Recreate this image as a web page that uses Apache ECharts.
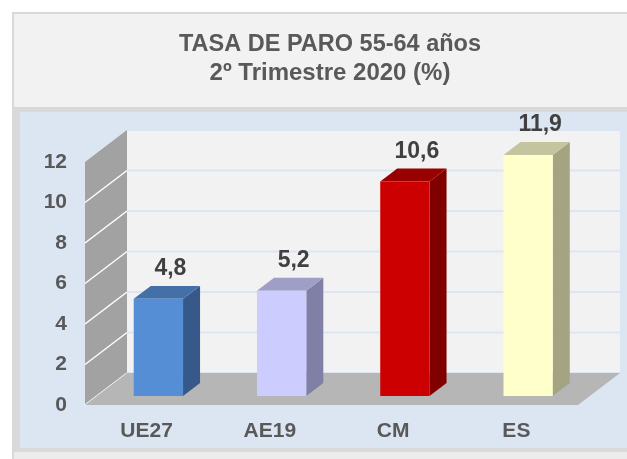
<!DOCTYPE html>
<html>
<head>
<meta charset="utf-8">
<script src="https://cdn.jsdelivr.net/npm/echarts@6/dist/echarts.min.js"></script>
<style>
  html, body { margin: 0; padding: 0; background: #fff; }
  #chart { width: 627px; height: 459px; }
</style>
</head>
<body>
<div id="chart"></div>
<script>
var categories = ['UE27', 'AE19', 'CM', 'ES'];
var values = [4.8, 5.2, 10.6, 11.9];
var yMin = 0, yMax = 12, yStep = 2;
var titleLines = ['TASA DE PARO 55-64 años', '2º Trimestre 2020 (%)'];

// colores de cada barra: frente, techo, lateral
var frontColors = ['#558ed5', '#ccccff', '#cc0000', '#ffffcc'];
var topColors = ['#4470a8', '#9e9ec6', '#990000', '#c4c49e'];
var sideColors = ['#36598a', '#8080a6', '#800000', '#a4a482'];

// profundidad del "3D"
var DX = 42, DY = -32;
var F0 = 0.28, F1 = 0.685;
var font = '"Liberation Sans", Arial, sans-serif';

var dom = document.getElementById('chart');
var myChart = echarts.init(dom, null, { renderer: 'canvas' });

function poly(points, color) {
    return { type: 'polygon', shape: { points: points }, style: { fill: color } };
}

function renderWalls(params, api) {
    var cs = params.coordSys;
    var l = cs.x, r = cs.x + cs.width, t = cs.y, b = cs.y + cs.height;
    var children = [];
    // pared del fondo
    children.push(poly([[l + DX, t + DY], [r + DX, t + DY], [r + DX, b + DY], [l + DX, b + DY]], '#f2f2f2'));
    for (var v = yMin; v <= yMax; v += yStep) {
        var y = api.coord([0, v])[1];
        children.push({
            type: 'line',
            shape: { x1: l + DX, y1: y + DY, x2: r + DX, y2: y + DY },
            style: { stroke: '#dce6f2', lineWidth: 2 }
        });
    }
    // pared lateral
    children.push(poly([[l, t], [l + DX, t + DY], [l + DX, b + DY], [l, b]], '#a2a2a2'));
    for (var w = yMin; w < yMax; w += yStep) {
        var yy = api.coord([0, w])[1];
        children.push({
            type: 'line',
            shape: { x1: l, y1: yy, x2: l + DX, y2: yy + DY },
            style: { stroke: '#ffffff', lineWidth: 1.5 }
        });
    }
    // suelo
    children.push(poly([[l, b], [l + DX, b + DY], [r + DX, b + DY], [r, b]], '#b6b6b6'));
    return { type: 'group', children: children };
}

function renderBar(params, api) {
    var i = api.value(0);
    var v = api.value(1);
    var base = api.coord([i, 0]);
    var top = api.coord([i, v]);
    var bw = api.size([1, 0])[0] * 0.4;
    var ox = DX * F0, oy = DY * F0;
    var bdx = DX * (F1 - F0), bdy = DY * (F1 - F0);
    var xl = base[0] - bw / 2 + ox, xr = base[0] + bw / 2 + ox;
    var yb = base[1] + oy, yt = top[1] + oy;
    return {
        type: 'group',
        children: [
            poly([[xr, yb], [xr + bdx, yb + bdy], [xr + bdx, yt + bdy], [xr, yt]], sideColors[i]),
            poly([[xl, yt], [xr, yt], [xr + bdx, yt + bdy], [xl + bdx, yt + bdy]], topColors[i]),
            poly([[xl, yb], [xr, yb], [xr, yt], [xl, yt]], frontColors[i]),
            {
                type: 'text',
                style: {
                    text: String(v).replace('.', ','),
                    x: base[0] + ox + 12,
                    y: yt - 30,
                    align: 'center',
                    verticalAlign: 'middle',
                    fontSize: 23,
                    fontWeight: 'bold',
                    fontFamily: font,
                    fill: '#404040'
                }
            }
        ]
    };
}

function titleText(str, y, size) {
    return {
        type: 'text', z: 5, x: 330, y: y,
        style: {
            text: str,
            textAlign: 'center', align: 'center',
            textVerticalAlign: 'middle', verticalAlign: 'middle',
            font: 'bold ' + size + 'px ' + font,
            fill: '#595959'
        }
    };
}

var option = {
    animation: false,
    backgroundColor: '#ffffff',
    graphic: [
        { type: 'rect', z: -10, shape: { x: 12, y: 12, width: 620, height: 452 }, style: { fill: '#d9d9d9' } },
        { type: 'rect', z: -9, shape: { x: 14, y: 14, width: 620, height: 93 }, style: { fill: '#f2f2f2' } },
        { type: 'rect', z: -9, shape: { x: 20, y: 112, width: 620, height: 336 }, style: { fill: '#dce6f2' } },
        { type: 'rect', z: -9, shape: { x: 14, y: 452, width: 620, height: 10 }, style: { fill: '#ececec' } },
        titleText(titleLines[0], 45, 23.5),
        titleText(titleLines[1], 73, 24)
    ],
    grid: { left: 85, right: 49, top: 162, bottom: 54 },
    xAxis: {
        type: 'category',
        data: categories,
        axisLine: { show: false },
        axisTick: { show: false },
        axisLabel: { margin: 16, fontSize: 21, fontWeight: 'bold', color: '#595959', fontFamily: font }
    },
    yAxis: {
        type: 'value',
        min: yMin,
        max: yMax,
        interval: yStep,
        splitLine: { show: false },
        axisLine: { show: false },
        axisTick: { show: false },
        axisLabel: { margin: 18, fontSize: 21, fontWeight: 'bold', color: '#595959', fontFamily: font }
    },
    series: [
        {
            type: 'custom',
            z: 1,
            silent: true,
            renderItem: renderWalls,
            data: [[0, 0]]
        },
        {
            type: 'custom',
            z: 3,
            renderItem: renderBar,
            data: values.map(function (v, i) { return [i, v]; })
        }
    ]
};

myChart.setOption(option);
window.addEventListener('resize', myChart.resize);
</script>
</body>
</html>
